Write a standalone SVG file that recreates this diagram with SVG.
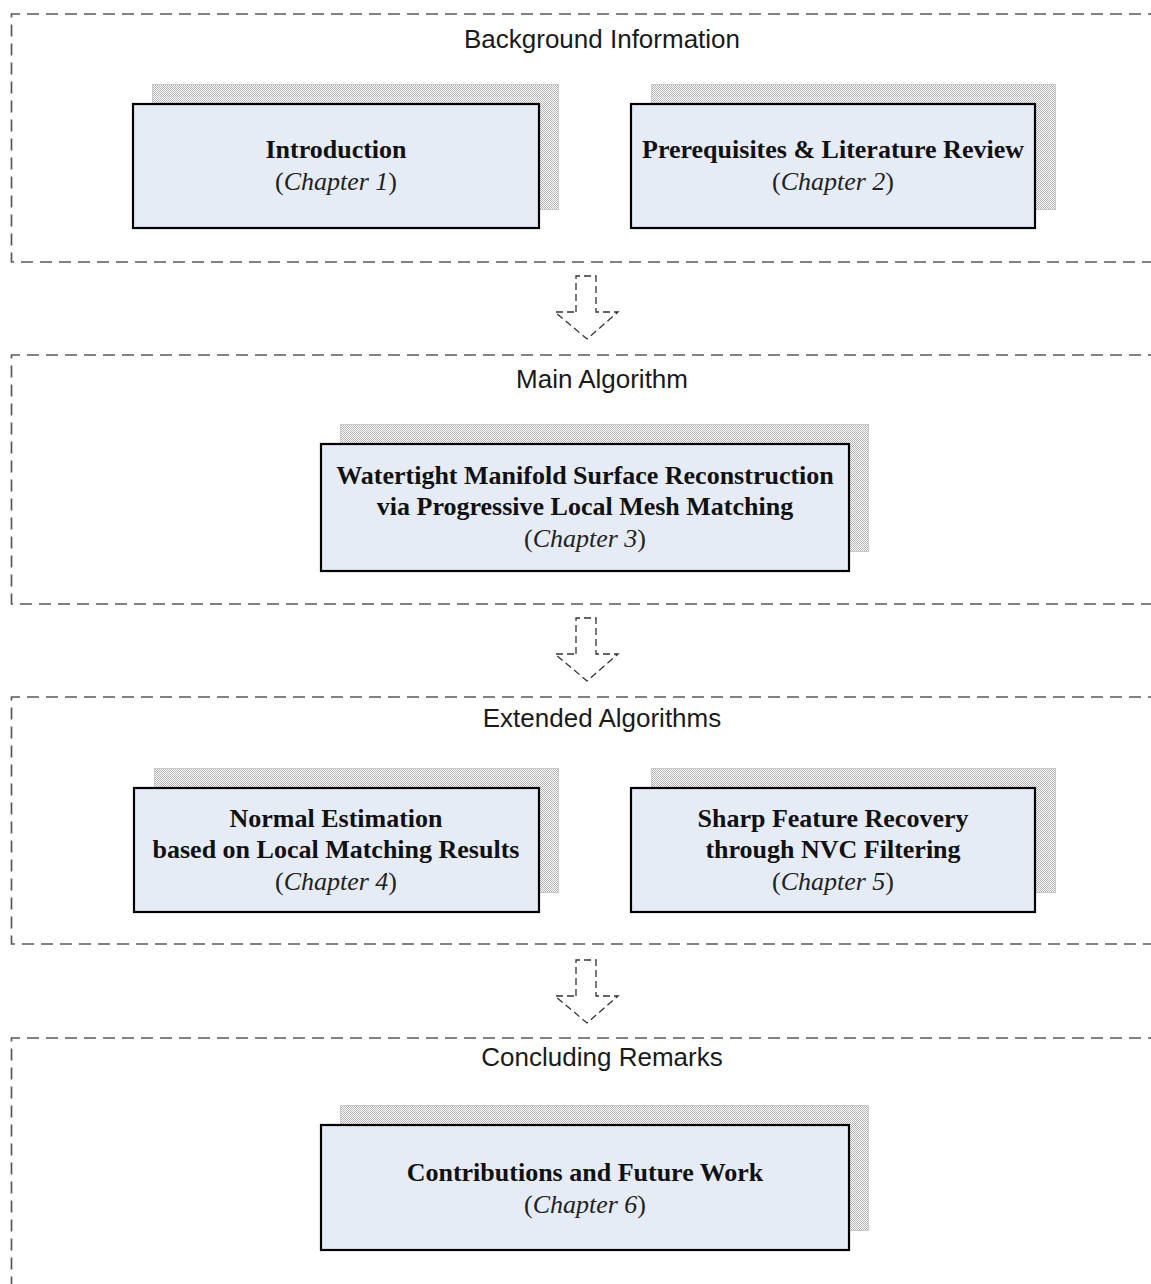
<svg xmlns="http://www.w3.org/2000/svg" width="1151" height="1284" viewBox="0 0 1151 1284">
<defs>
<pattern id="chk" width="2" height="2" patternUnits="userSpaceOnUse">
<rect width="2" height="2" fill="#ffffff"/>
<rect width="1" height="1" fill="#b4b4b4"/>
<rect x="1" y="1" width="1" height="1" fill="#b4b4b4"/>
</pattern>
<style>
.frame{fill:none;stroke:#5a5a5a;stroke-width:1.7;stroke-dasharray:12 7}
.ftitle{font-family:"Liberation Sans",Arial,sans-serif;font-size:26px;fill:#1a1a1a;text-anchor:middle}
.shadow{fill:url(#chk);stroke:#c8c8c8;stroke-width:1}
.box{fill:#e6ecf6;stroke:#000;stroke-width:2.2}
.bt{font-family:"Liberation Serif","Times New Roman",serif;font-size:26px;font-weight:bold;fill:#111;text-anchor:middle}
.ch{font-family:"Liberation Serif","Times New Roman",serif;font-size:26px;fill:#222;text-anchor:middle}
.it{font-style:italic}
.arrow{fill:#fff;stroke:#333;stroke-width:1.3;stroke-dasharray:7 4}
</style>
</defs>
<rect width="1151" height="1284" fill="#fff"/>

<g id="frames">
<path class="frame" d="M1160,14 H11.5 V262 H1160"/>
<path class="frame" d="M1160,355 H11.5 V604 H1160"/>
<path class="frame" d="M1160,697 H11.5 V944 H1160"/>
<path class="frame" d="M1160,1038 H11.5 V1300"/>
<text class="ftitle" x="602" y="48">Background Information</text>
<text class="ftitle" x="602" y="388">Main Algorithm</text>
<text class="ftitle" x="602" y="727">Extended Algorithms</text>
<text class="ftitle" x="602" y="1066">Concluding Remarks</text>
</g>

<g id="node-intro">
<rect class="shadow" x="152.5" y="84.5" width="406" height="125"/>
<rect class="box" x="133" y="104" width="406" height="124"/>
<text class="bt" x="336" y="158">Introduction</text>
<text class="ch" x="336" y="190">(<tspan class="it">Chapter 1</tspan>)</text>
</g>

<g id="node-prereq">
<rect class="shadow" x="651.5" y="84.5" width="404" height="125"/>
<rect class="box" x="631" y="104" width="404" height="124"/>
<text class="bt" x="833" y="158">Prerequisites &amp; Literature Review</text>
<text class="ch" x="833" y="190">(<tspan class="it">Chapter 2</tspan>)</text>
</g>

<g id="node-ch3">
<rect class="shadow" x="340.5" y="424.5" width="528" height="127"/>
<rect class="box" x="321" y="444" width="528" height="127"/>
<text class="bt" x="585" y="484">Watertight Manifold Surface Reconstruction</text>
<text class="bt" x="585" y="515">via Progressive Local Mesh Matching</text>
<text class="ch" x="585" y="547">(<tspan class="it">Chapter 3</tspan>)</text>
</g>

<g id="node-ch4">
<rect class="shadow" x="154.5" y="768.5" width="404" height="124"/>
<rect class="box" x="134" y="788" width="405" height="124"/>
<text class="bt" x="336" y="827">Normal Estimation</text>
<text class="bt" x="336" y="858">based on Local Matching Results</text>
<text class="ch" x="336" y="890">(<tspan class="it">Chapter 4</tspan>)</text>
</g>

<g id="node-ch5">
<rect class="shadow" x="651.5" y="768.5" width="404" height="124"/>
<rect class="box" x="631" y="788" width="404" height="124"/>
<text class="bt" x="833" y="827">Sharp Feature Recovery</text>
<text class="bt" x="833" y="858">through NVC Filtering</text>
<text class="ch" x="833" y="890">(<tspan class="it">Chapter 5</tspan>)</text>
</g>

<g id="node-ch6">
<rect class="shadow" x="340.5" y="1105.5" width="528" height="125"/>
<rect class="box" x="321" y="1125" width="528" height="125"/>
<text class="bt" x="585" y="1181">Contributions and Future Work</text>
<text class="ch" x="585" y="1213">(<tspan class="it">Chapter 6</tspan>)</text>
</g>

<g id="connectors">
<path class="arrow" d="M576,312 V276 H596 V312 H618 L587,339 L555,312 Z"/>
<path class="arrow" d="M576,654 V618 H596 V654 H618 L587,681 L555,654 Z"/>
<path class="arrow" d="M576,996 V960 H596 V996 H618 L587,1023 L555,996 Z"/>
</g>
</svg>
